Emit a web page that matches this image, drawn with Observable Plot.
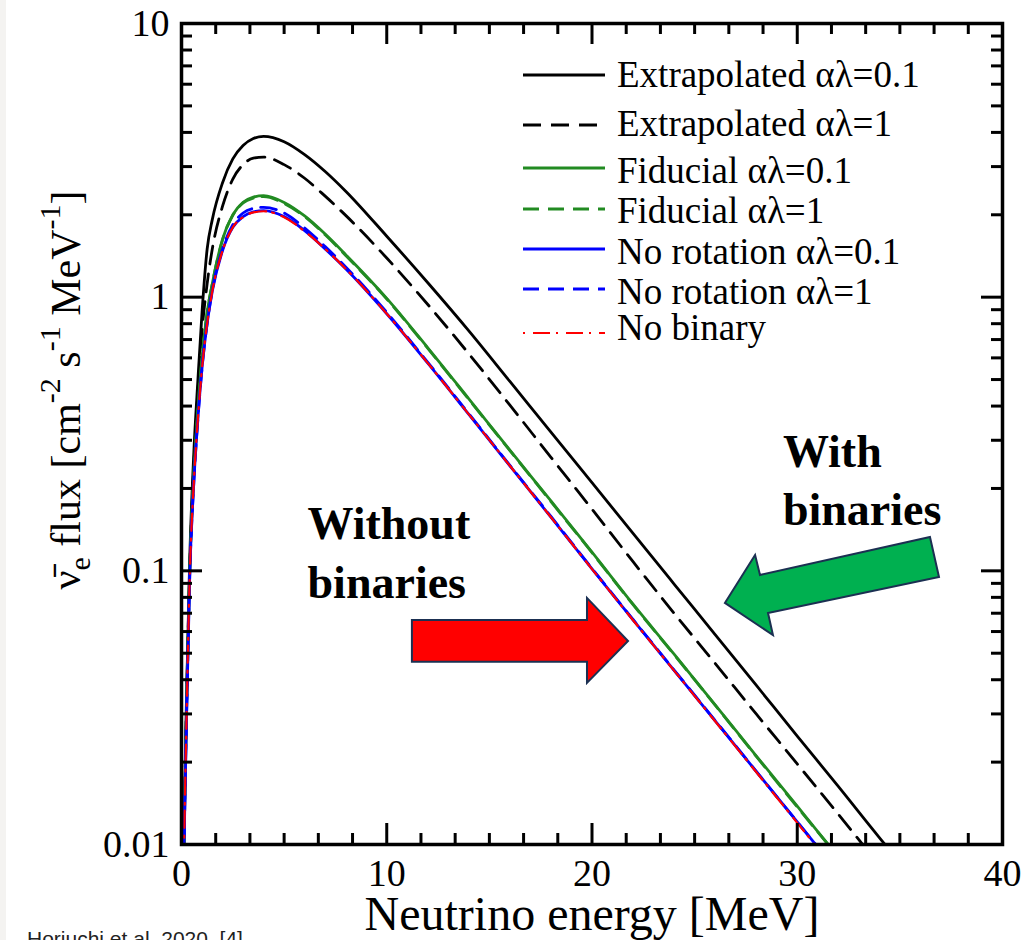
<!DOCTYPE html>
<html>
<head>
<meta charset="utf-8">
<script src="https://cdn.jsdelivr.net/npm/d3@7"></script>
<script src="https://cdn.jsdelivr.net/npm/@observablehq/plot@0.6"></script>
<style>
  html, body { margin: 0; padding: 0; background: #fff; }
  #chart { position: relative; width: 1025px; height: 940px; overflow: hidden; }
</style>
</head>
<body>
<div id="chart"></div>
<script>
// ---------------- data ----------------
const energy = [0.05, 0.1, 0.15, 0.25, 0.4, 0.6, 0.8, 1.0, 1.25, 1.5, 2, 2.5, 3, 3.5, 4, 5, 6, 7, 8, 10, 12, 14, 16, 18, 20, 22, 24, 26, 28, 30, 32, 34, 36];

const extrapolated01 = [0.0025, 0.0085, 0.015, 0.036, 0.11, 0.27, 0.5, 0.88, 1.5, 1.92, 2.62, 3.2, 3.58, 3.8, 3.87, 3.7, 3.32, 2.88, 2.44, 1.67, 1.129, 0.753, 0.492, 0.321, 0.21, 0.137, 0.0895, 0.0585, 0.0382, 0.0249, 0.0163, 0.0106, 0.0070];
const extrapolated1  = [0.0023, 0.008, 0.014, 0.034, 0.1, 0.24, 0.45, 0.75, 1.12, 1.5, 2.15, 2.7, 3.05, 3.22, 3.25, 3.05, 2.72, 2.34, 1.99, 1.39, 0.94, 0.621, 0.403, 0.26, 0.168, 0.108, 0.070, 0.0459, 0.030, 0.0197, 0.0129, 0.0084, 0.0055];
const fiducial01     = [0.0022, 0.0075, 0.013, 0.032, 0.1, 0.225, 0.39, 0.6, 0.88, 1.12, 1.63, 2.0, 2.22, 2.32, 2.35, 2.22, 1.98, 1.7, 1.43, 0.99, 0.653, 0.425, 0.276, 0.18, 0.117, 0.0755, 0.0496, 0.0324, 0.0211, 0.0138, 0.009, 0.0058, 0.0038];
const fiducial1      = [0.0022, 0.0075, 0.013, 0.032, 0.1, 0.225, 0.39, 0.6, 0.88, 1.12, 1.62, 1.99, 2.21, 2.30, 2.33, 2.20, 1.97, 1.69, 1.42, 0.985, 0.65, 0.423, 0.275, 0.179, 0.1165, 0.0752, 0.0494, 0.0323, 0.021, 0.0137, 0.009, 0.0058, 0.0038];
const noRotation01   = [0.002, 0.0072, 0.0125, 0.03, 0.095, 0.21, 0.36, 0.55, 0.8, 1.05, 1.48, 1.8, 1.97, 2.05, 2.07, 1.97, 1.75, 1.5, 1.27, 0.87, 0.574, 0.373, 0.242, 0.157, 0.1017, 0.0662, 0.0433, 0.0283, 0.0185, 0.0121, 0.0079, 0.0051, 0.0033];
const noRotation1    = [0.002, 0.0072, 0.0125, 0.03, 0.095, 0.21, 0.36, 0.55, 0.8, 1.06, 1.5, 1.84, 2.03, 2.11, 2.13, 2.03, 1.79, 1.53, 1.29, 0.88, 0.578, 0.375, 0.243, 0.158, 0.102, 0.0664, 0.0434, 0.0284, 0.0185, 0.0121, 0.0079, 0.0051, 0.0033];
const noBinary       = [0.002, 0.0072, 0.0125, 0.03, 0.095, 0.21, 0.36, 0.55, 0.8, 1.05, 1.48, 1.8, 1.96, 2.04, 2.06, 1.96, 1.74, 1.5, 1.27, 0.87, 0.574, 0.373, 0.242, 0.157, 0.1015, 0.066, 0.0432, 0.0282, 0.0184, 0.012, 0.0078, 0.0051, 0.0033];

const seriesNames = ["Extrapolated \u03b1\u03bb=0.1", "Extrapolated \u03b1\u03bb=1", "Fiducial \u03b1\u03bb=0.1", "Fiducial \u03b1\u03bb=1", "No rotation \u03b1\u03bb=0.1", "No rotation \u03b1\u03bb=1", "No binary"];
const seriesValues = [extrapolated01, extrapolated1, fiducial01, fiducial1, noRotation01, noRotation1, noBinary];

const xTickLabels = [0, 10, 20, 30, 40];
const yTickValues = [0.01, 0.1, 1, 10];
const yTickLabels = ["0.01", "0.1", "1", "10"];

const xLabel = "Neutrino energy [MeV]";
const annotationLeft = "Without\nbinaries";
const annotationRight = "With\nbinaries";
const caption = "Horiuchi et al. 2020, [4]";

// arrow outlines in data units (energy MeV, flux)
const redArrow = [[11.25, 0.0659], [19.78, 0.0659], [19.78, 0.0793], [21.78, 0.0552], [19.78, 0.0388], [19.78, 0.0463], [11.25, 0.0463]];
const greenArrow = [[26.50, 0.0760], [27.97, 0.1138], [28.21, 0.0962], [36.49, 0.1323], [36.93, 0.0946], [28.60, 0.0698], [28.84, 0.0580]];

// ---------------- styles / layout ----------------
const styles = [
  {color: "#000000", width: 2.8, dash: null},
  {color: "#000000", width: 2.8, dash: "18,10"},
  {color: "#228b22", width: 2.8, dash: null},
  {color: "#228b22", width: 2.8, dash: "16,9"},
  {color: "#0000ff", width: 2.8, dash: null},
  {color: "#0000ff", width: 2.8, dash: "16,9"},
  {color: "#ff0000", width: 2.2, dash: "2,8,17,6"}
];
const W = 1025, H = 940;
const mL = 181, mR = 23, mT = 23, mB = 96;
const frameW = W - mL - mR, frameH = H - mT - mB;
const majorLen = 21, minorLen = 11;
const serif = "'Liberation Serif', 'Times New Roman', Times, serif";

// minor tick positions
const xMinor = [];
for (let i = 0; i < xTickLabels.length - 1; i++)
  for (let j = 1; j < 6; j++) xMinor.push(xTickLabels[i] + j * (xTickLabels[i + 1] - xTickLabels[i]) / 6);
const yMinor = [];
for (const k of [0.01, 0.1, 1]) for (let m = 2; m <= 9; m++) yMinor.push(m * k);

function arrowMark(points, fill) {
  return (index, scales) => {
    const d = "M" + points.map(([e, f]) => `${scales.x(e)},${scales.y(f)}`).join("L") + "Z";
    return d3.create("svg:path")
      .attr("d", d).attr("fill", fill)
      .attr("stroke", "#1b3052").attr("stroke-width", 2).attr("stroke-linejoin", "miter")
      .node();
  };
}

const lineMarks = seriesValues.map((vals, s) =>
  Plot.line(energy, {
    x: d => d, y: (d, i) => vals[i],
    stroke: styles[s].color, strokeWidth: styles[s].width,
    strokeDasharray: styles[s].dash, curve: "monotone-x", clip: true
  })
);

const chart = Plot.plot({
  width: W, height: H,
  marginLeft: mL, marginRight: mR, marginTop: mT, marginBottom: mB,
  x: {domain: [0, 40], axis: null},
  y: {type: "log", domain: [0.01, 10], axis: null},
  style: {fontFamily: serif, background: "transparent", overflow: "visible"},
  marks: [
    arrowMark(redArrow, "#ff0000"),
    arrowMark(greenArrow, "#00b050"),
    Plot.text([annotationLeft], {x: 6.14, y: 0.0799, text: d => d, textAnchor: "start", lineAnchor: "bottom", lineHeight: 1.28, fontSize: 46, fontWeight: "bold", fill: "#000"}),
    Plot.text([annotationRight], {x: 29.3, y: 0.1465, text: d => d, textAnchor: "start", lineAnchor: "bottom", lineHeight: 1.26, fontSize: 46, fontWeight: "bold", fill: "#000"}),
    ...lineMarks,
    // ticks (inward) bottom/top
    Plot.tickX(xTickLabels, {x: d => d, insetTop: frameH - majorLen, strokeWidth: 3, stroke: "#000"}),
    Plot.tickX(xTickLabels, {x: d => d, insetBottom: frameH - majorLen, strokeWidth: 3, stroke: "#000"}),
    Plot.tickX(xMinor, {x: d => d, insetTop: frameH - minorLen, strokeWidth: 3, stroke: "#000"}),
    Plot.tickX(xMinor, {x: d => d, insetBottom: frameH - minorLen, strokeWidth: 3, stroke: "#000"}),
    // ticks (inward) left/right
    Plot.tickY(yTickValues, {y: d => d, insetRight: frameW - majorLen, strokeWidth: 3, stroke: "#000"}),
    Plot.tickY(yTickValues, {y: d => d, insetLeft: frameW - majorLen, strokeWidth: 3, stroke: "#000"}),
    Plot.tickY(yMinor, {y: d => d, insetRight: frameW - minorLen, strokeWidth: 3, stroke: "#000"}),
    Plot.tickY(yMinor, {y: d => d, insetLeft: frameW - minorLen, strokeWidth: 3, stroke: "#000"}),
    Plot.frame({stroke: "#000", strokeWidth: 3.5}),
    // tick labels
    Plot.text(xTickLabels, {x: d => d, frameAnchor: "bottom", dy: 41, lineAnchor: "bottom", text: d => String(d), fontSize: 38, fill: "#000"}),
    Plot.text(yTickValues, {y: d => d, frameAnchor: "left", dx: -12, textAnchor: "end", lineAnchor: "middle", text: (d, i) => yTickLabels[i], fontSize: 38, fill: "#000"}),
    // x axis label
    Plot.text([xLabel], {x: 20, frameAnchor: "bottom", dy: 85, lineAnchor: "bottom", text: d => d, fontSize: 48, fill: "#000"})
  ]
});

const svg = d3.select(chart);

// scan-edge strip at left
svg.insert("rect", ":first-child").attr("x", 0).attr("y", 0).attr("width", 6).attr("height", H).attr("fill", "#f4f3f1");

// y axis label (rotated, with sub/superscripts)
const yl = svg.append("text")
  .attr("transform", "translate(80,390) rotate(-90)")
  .style("text-anchor", "middle")
  .style("font-family", serif).style("font-size", "42px").attr("fill", "#000");
yl.append("tspan").text("\u03bd\u0304");
yl.append("tspan").style("font-size", "30px").attr("dy", 10).text("e");
yl.append("tspan").attr("dy", -10).text(" flux [cm");
yl.append("tspan").style("font-size", "30px").attr("dy", -20).text("-2");
yl.append("tspan").attr("dy", 20).text(" s");
yl.append("tspan").style("font-size", "30px").attr("dy", -20).text("-1");
yl.append("tspan").attr("dy", 20).text(" MeV");
yl.append("tspan").style("font-size", "30px").attr("dy", -20).text("-1");
yl.append("tspan").attr("dy", 20).text("]");

// legend
const legendLineY = [75, 125, 168, 209, 249, 289, 333];
const legendTextY = [87, 136, 183, 223, 264, 304, 340];
const lg = svg.append("g");
seriesNames.forEach((name, i) => {
  lg.append("line")
    .attr("x1", 523).attr("x2", 605).attr("y1", legendLineY[i]).attr("y2", legendLineY[i])
    .attr("stroke", styles[i].color).attr("stroke-width", styles[i].width)
    .attr("stroke-dasharray", styles[i].dash);
  lg.append("text").attr("x", 617).attr("y", legendTextY[i])
    .style("text-anchor", "start")
    .style("font-family", serif).style("font-size", "37px").attr("fill", "#000").text(name);
});

// caption at lower left (partly cut by the bottom edge, as in the reference)
svg.append("text").attr("x", 27).attr("y", 946)
  .style("text-anchor", "start")
  .style("font-family", "'Liberation Sans', Arial, sans-serif").style("font-size", "21px").attr("fill", "#222")
  .text(caption);

document.getElementById("chart").appendChild(chart);
</script>
</body>
</html>
